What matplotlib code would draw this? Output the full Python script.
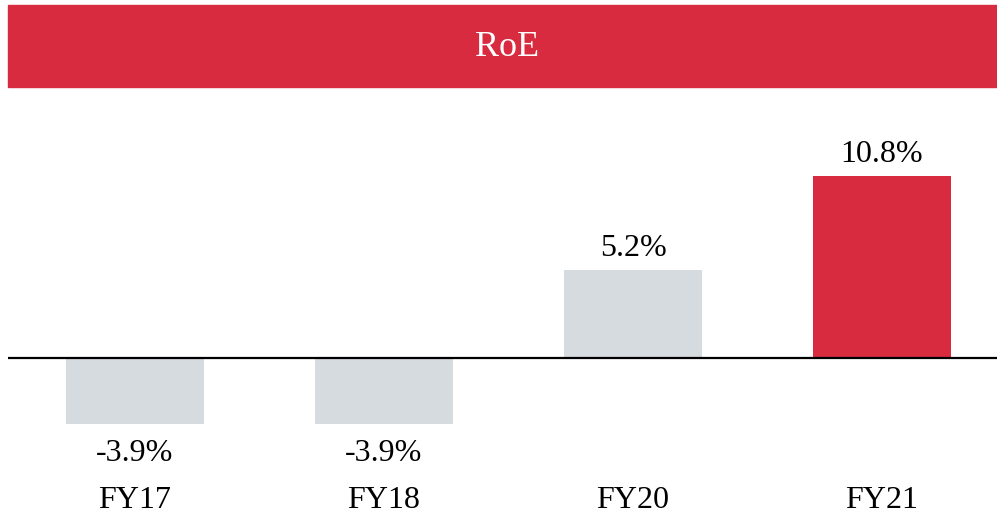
import matplotlib.pyplot as plt
from matplotlib.patches import Rectangle

categories = ['FY17', 'FY18', 'FY20', 'FY21']
roe = [-3.9, -3.9, 5.2, 10.8]
labels = ['-3.9%', '-3.9%', '5.2%', '10.8%']
colors = ['#D6DBDF', '#D6DBDF', '#D6DBDF', '#D92B40']

plt.rcParams['font.family'] = ['Liberation Serif', 'DejaVu Serif']

W, H = 997, 518
fig = plt.figure(figsize=(W / 100, H / 100), dpi=100)

# red title band
fig.patches.append(Rectangle((8 / W, 1 - 87 / H), 992 / W, 82 / H,
                             transform=fig.transFigure, color='#D92B40', zorder=0))
fig.text(507 / W, 1 - 47 / H, 'RoE', color='white', fontsize=26,
         ha='center', va='center')

# axes: pixel rows 100..518 from top, zero line at row 358
px_per = 16.85
ax = fig.add_axes([8 / W, 0, 992 / W, 418 / H])
ax.set_ylim(-(518 - 358) / px_per, (358 - 100) / px_per)
x = range(len(categories))
ax.set_xlim(-127 / 249, (992 - 127) / 249)
ax.bar(x, roe, width=138 / 249, color=colors, zorder=2)
ax.axhline(0, color='black', lw=1.6, zorder=3)

for i, (v, lab) in enumerate(zip(roe, labels)):
    if v >= 0:
        ax.annotate(lab, (i, v), xytext=(0, 5), textcoords='offset points',
                    ha='center', va='bottom', fontsize=23)
    else:
        ax.annotate(lab, (i, v), xytext=(0, -11), textcoords='offset points',
                    ha='center', va='top', fontsize=23)
    ax.text(i, (358 - 500) / px_per, categories[i], ha='center', va='center',
            fontsize=23)

ax.axis('off')
fig.savefig('out.png', dpi=100)
